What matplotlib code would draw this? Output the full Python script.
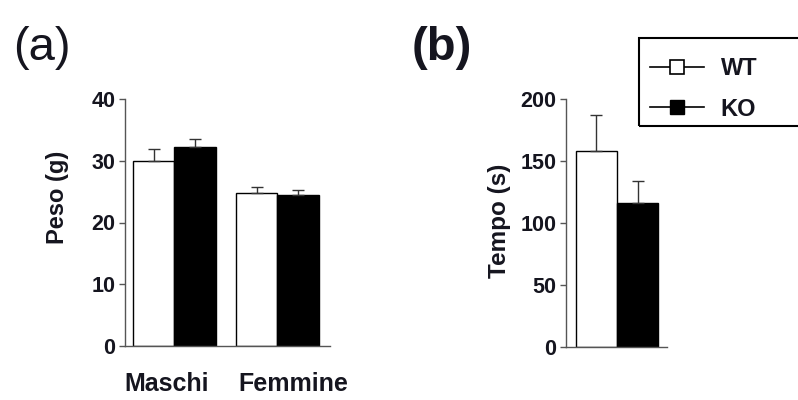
import matplotlib
matplotlib.use("Agg")
import matplotlib.pyplot as plt
from matplotlib.lines import Line2D
from matplotlib.patches import Rectangle
import matplotlib.transforms as mtransforms
import numpy as np

plt.rcParams['font.family'] = ['Liberation Sans', 'DejaVu Sans']

# Data
groups_a = ["Maschi", "Femmine"]
wt_a = [30.0, 24.7]
wt_a_err = [1.9, 1.0]
ko_a = [32.3, 24.4]
ko_a_err = [1.3, 0.9]

wt_b = [158]
wt_b_err = [29]
ko_b = [116]
ko_b_err = [18]

series = ["WT", "KO"]
yticks_a = [0, 10, 20, 30, 40]
yticks_b = [0, 50, 100, 150, 200]

W, H = 798, 400
fig = plt.figure(figsize=(W / 100, H / 100), dpi=100)
fig.patch.set_facecolor('white')

txt = '#15151f'
spine_c = '#555555'
bw = 0.4

def style(ax):
    for s in ['top', 'right']:
        ax.spines[s].set_visible(False)
    for s in ['left', 'bottom']:
        ax.spines[s].set_color(spine_c)
        ax.spines[s].set_linewidth(1.0)
    ax.tick_params(axis='y', direction='out', length=4, width=1, color=spine_c,
                   labelsize=15.5, labelcolor=txt, pad=3)
    ax.tick_params(axis='x', length=0, labelsize=18, labelcolor=txt, pad=19)
    for lab in ax.get_yticklabels() + ax.get_xticklabels():
        lab.set_fontweight('bold')

# Panel (a)
ax1 = fig.add_axes([125 / W, 54 / H, 205 / W, 247 / H])
x = np.arange(len(groups_a))
ax1.bar(x - bw / 2, wt_a, bw, color='white', edgecolor='black', linewidth=1.0,
        yerr=[np.zeros(len(wt_a)), wt_a_err], capsize=4.5,
        error_kw=dict(ecolor='#333333', elinewidth=1.0, capthick=1.0))
ax1.bar(x + bw / 2, ko_a, bw, color='black', edgecolor='black', linewidth=1.0,
        yerr=[np.zeros(len(ko_a)), ko_a_err], capsize=4.5,
        error_kw=dict(ecolor='#333333', elinewidth=1.0, capthick=1.0))
ax1.set_xlim(-0.48, 1.51)
ax1.set_ylim(0, 40)
ax1.set_yticks(yticks_a)
ax1.set_xticks(x)
ax1.set_xticklabels(groups_a)
style(ax1)
# small horizontal offsets of the category labels, as in the original
for lab, dx in zip(ax1.get_xticklabels(), [-8, 16]):
    lab.set_transform(lab.get_transform() +
                      mtransforms.ScaledTranslation(dx / 100, 0, fig.dpi_scale_trans))
ax1.set_ylabel("Peso (g)", fontsize=17, fontweight='bold', color=txt)
ax1.yaxis.set_label_coords(-56 / 205, 0.60)

# Panel (b)
ax2 = fig.add_axes([566 / W, 53.3 / H, 101 / W, 247.4 / H])
ax2.bar([0 - bw / 2], wt_b, bw, color='white', edgecolor='black', linewidth=1.0,
        yerr=[[0], wt_b_err], capsize=4.5,
        error_kw=dict(ecolor='#333333', elinewidth=1.0, capthick=1.0))
ax2.bar([0 + bw / 2], ko_b, bw, color='black', edgecolor='black', linewidth=1.0,
        yerr=[[0], ko_b_err], capsize=4.5,
        error_kw=dict(ecolor='#333333', elinewidth=1.0, capthick=1.0))
ax2.set_xlim(-0.495, 0.485)
ax2.set_ylim(0, 200)
ax2.set_yticks(yticks_b)
ax2.set_xticks([])
style(ax2)
ax2.set_ylabel("Tempo (s)", fontsize=17.5, fontweight='bold', color=txt)
ax2.yaxis.set_label_coords(-55 / 101, 0.51)

# Panel letters
fig.text(13 / W, 1 - 60 / H, "(a)", fontsize=34, color=txt, ha='left', va='baseline')
fig.text(412 / W, 1 - 60 / H, "(b)", fontsize=34, color=txt, ha='left', va='baseline',
         fontweight='bold')

# Legend
handles = [
    Line2D([], [], color='black', linewidth=1.2, marker='s', markersize=10,
           markerfacecolor='white', markeredgecolor='black', markeredgewidth=1.2),
    Line2D([], [], color='black', linewidth=1.2, marker='s', markersize=10,
           markerfacecolor='black', markeredgecolor='black'),
]
leg = fig.legend(handles, series, loc='upper left',
                 bbox_to_anchor=(650 / W, 1 - 57 / H), frameon=False,
                 prop=dict(size=17, weight='bold'), handlelength=2.3,
                 handletextpad=0.7, labelspacing=0.75, borderpad=0, borderaxespad=0)
for t in leg.get_texts():
    t.set_color(txt)
fig.patches.append(Rectangle((639 / W, 1 - 126 / H), 170 / W, 88 / H,
                             transform=fig.transFigure, fill=False,
                             edgecolor='black', linewidth=1.5, clip_on=False))

fig.savefig("out.png", dpi=100, facecolor='white')
